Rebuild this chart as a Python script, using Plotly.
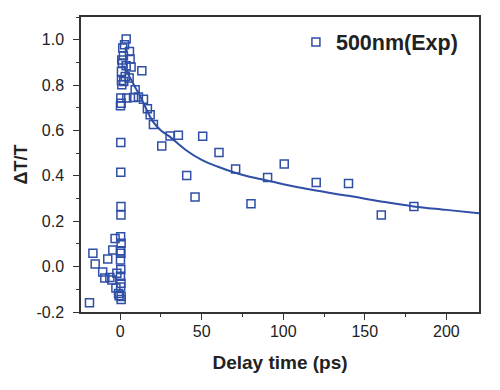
import plotly.graph_objects as go

# Experimental data: delay time (ps) and dT/T
delay_ps = [
    -18.8, -16.7, -15.3, -10.7, -9.4, -7.6, -6.3, -5.1, -4.5, -3.1, -2.6, -2.0, -1.0, -0.6,
    0.3, 0.6, 0.1, 0.5, 0.2, 0.4, 0.2, 0.5, 0.3, 0.6, 0.6, 0.5, 0.5, 0.4, 0.4, 0.2, 0.6, 0.4,
    1.0, 0.8, 1.4, 1.6, 0.8, 1.0,
    2.2, 2.0, 2.7, 3.7, 3.7, 3.1, 4.1, 5.5, 5.7, 6.1, 6.7, 8.2, 9.2, 11.2, 13.3, 14.3,
    16.7, 18.4, 20.4, 25.5, 30.6, 35.7, 40.8, 45.9, 50.6, 60.6, 70.8, 80.2, 90.4, 100.6,
    120.2, 140.0, 160.1, 180.1,
]
dT_T = [
    -0.159, 0.059, 0.012, -0.024, -0.050, 0.034, -0.048, -0.059, 0.073, 0.124, -0.094, -0.029, -0.118, -0.128,
    0.132, 0.103, 0.070, 0.059, 0.029, -0.013, -0.042, -0.073, -0.090, -0.132, -0.145, 0.265, 0.228, 0.416,
    0.547, 0.709, 0.720, 0.743,
    0.801, 0.820, 0.897, 0.963, 0.860, 0.910,
    0.816, 0.929, 0.978, 1.003, 0.885, 0.838, 0.743, 0.831, 0.948, 0.915, 0.880, 0.745, 0.779, 0.747, 0.863, 0.738,
    0.696, 0.669, 0.626, 0.532, 0.576, 0.579, 0.401, 0.307, 0.574, 0.503, 0.430, 0.277, 0.393, 0.452,
    0.371, 0.366, 0.228, 0.265,
]

# Fit curve
fit_t = [2, 4, 7, 10, 12, 15, 20, 25, 30, 40, 50, 60, 70, 80, 90, 100, 120, 140, 160, 180, 200, 220]
fit_y = [0.885, 0.86, 0.82, 0.78, 0.755, 0.71, 0.64, 0.60, 0.575, 0.515, 0.47, 0.44, 0.415,
         0.395, 0.38, 0.363, 0.335, 0.312, 0.287, 0.265, 0.25, 0.235]

x_ticks = [0, 50, 100, 150, 200]
x_ticklabels = ["0", "50", "100", "150", "200"]
y_ticks = [-0.2, 0.0, 0.2, 0.4, 0.6, 0.8, 1.0]
y_ticklabels = ["-0.2", "0.0", "0.2", "0.4", "0.6", "0.8", "1.0"]

blue = "#2f4ea6"
font_family = "Arial, Liberation Sans, sans-serif"

fig = go.Figure()
fig.add_trace(go.Scatter(
    x=fit_t, y=fit_y, mode="lines", line=dict(color=blue, width=2, shape="spline"),
    showlegend=False, hoverinfo="skip",
))
fig.add_trace(go.Scatter(
    x=delay_ps, y=dT_T, mode="markers", name="500nm(Exp)",
    marker=dict(symbol="square-open", size=8, color=blue, line=dict(width=1.5, color=blue)),
))

axis_common = dict(
    showline=True, linecolor="#333333", linewidth=1.5, mirror=True, automargin=False,
    showgrid=False, zeroline=False, ticks="outside", ticklen=6, tickwidth=1.2,
    tickcolor="#333333", tickfont=dict(family=font_family, size=16, color="#222222"),
)

# The page body adds an 8px offset, so the figure is sized to fit the 500x390 window
fig.update_layout(
    width=492, height=382,
    margin=dict(l=73, r=21, t=9, b=78),
    paper_bgcolor="white", plot_bgcolor="white",
    font=dict(family=font_family, color="#222222"),
    xaxis=dict(
        range=[-24, 220], tickvals=x_ticks, ticktext=x_ticklabels,
        minor=dict(dtick=25, tick0=0, ticks="outside", ticklen=3, tickcolor="#333333"),
        title=dict(text="<b>Delay time (ps)</b>", font=dict(size=19, family=font_family, color="#222222"), standoff=17),
        ticklabelstandoff=-2,
        **axis_common,
    ),
    yaxis=dict(
        range=[-0.2, 1.1], tickvals=y_ticks, ticktext=y_ticklabels,
        minor=dict(dtick=0.1, tick0=0, ticks="outside", ticklen=3, tickcolor="#333333"),
        title=dict(text="<b>ΔT/T</b>", font=dict(size=18, family=font_family, color="#222222"), standoff=4),
        ticklabelstandoff=6,
        **axis_common,
    ),
    legend=dict(
        x=0.54, y=0.915, xanchor="left", yanchor="middle",
        bgcolor="rgba(0,0,0,0)", borderwidth=0,
        font=dict(family=font_family, size=21.5, color="#222222", weight="bold"),
    ),
)

fig.write_html("out.html")
